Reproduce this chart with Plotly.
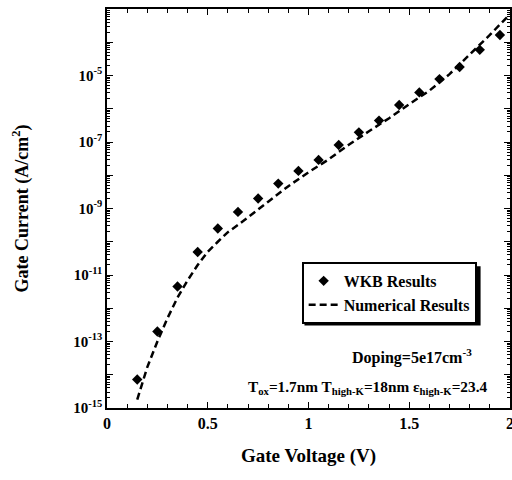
import numpy as np
import plotly.graph_objects as go

# WKB results (diamonds)
wkb_v = [0.15, 0.25, 0.35, 0.45, 0.55, 0.65, 0.75, 0.85, 0.95, 1.05,
         1.15, 1.25, 1.35, 1.45, 1.55, 1.65, 1.75, 1.85, 1.95]
wkb_j = [7.2e-15, 2.0e-13, 4.5e-12, 4.9e-11, 2.5e-10, 7.9e-10, 2.0e-9, 5.6e-9, 1.35e-8, 2.9e-8,
         8.1e-8, 1.95e-7, 4.4e-7, 1.3e-6, 3.1e-6, 7.8e-6, 1.8e-5, 5.9e-5, 1.66e-4]

# Numerical results (dashed line)
num_v = [0.15, 0.2, 0.25, 0.3, 0.35, 0.4, 0.45, 0.5, 0.55, 0.6, 0.65, 0.7,
         0.8, 0.9, 1.0, 1.1, 1.2, 1.3, 1.4, 1.5, 1.6, 1.7, 1.8, 1.9, 2.0]
num_j = [1.8e-15, 1.7e-14, 1.0e-13, 5.0e-13, 2.1e-12, 6.9e-12, 2.0e-11, 5.0e-11, 1.0e-10, 1.95e-10, 3.2e-10, 5.4e-10,
         1.6e-9, 4.7e-9, 1.23e-8, 3.0e-8, 8.3e-8, 2.1e-7, 5.2e-7, 1.38e-6, 3.5e-6, 1.1e-5, 4.3e-5, 1.66e-4, 7.0e-4]

x_tick_vals = [0, 0.5, 1, 1.5, 2]
x_tick_text = ["0", "0.5", "1", "1.5", "2"]
y_exponents = list(range(-15, -2))
y_label_exponents = [-15, -13, -11, -9, -7, -5]

FONT = "Liberation Serif"

fig = go.Figure()
fig.add_trace(go.Scatter(
    x=wkb_v, y=wkb_j, mode="markers", name="WKB Results",
    marker=dict(symbol="diamond", size=8, color="black"),
))
fig.add_trace(go.Scatter(
    x=num_v, y=num_j, mode="lines", name="Numerical Results",
    line=dict(color="black", width=2.5, dash="7px,4px"),
))

y_tickvals = [10.0 ** e for e in y_exponents]
y_ticktext = [f"10<sup>{e}</sup>" if e in y_label_exponents else "" for e in y_exponents]
y_minor = [k * 10.0 ** e for e in y_exponents[:-1] for k in range(2, 10)]

fig.update_xaxes(
    range=[0, 2], tickmode="array", tickvals=x_tick_vals, ticktext=x_tick_text,
    ticks="inside", ticklen=6, tickwidth=1.2, tickcolor="black",
    minor=dict(tickmode="array", tickvals=[i / 10 for i in range(1, 20)],
               ticks="inside", ticklen=4, tickwidth=1, tickcolor="black"),
    showline=True, linecolor="black", linewidth=1.5, mirror="ticks",
    showgrid=False, zeroline=False, automargin=False, ticklabeloverflow="allow",
    tickfont=dict(family=FONT, size=16, color="black", weight="bold"),
    title=dict(text="Gate Voltage (V)", standoff=18,
               font=dict(family=FONT, size=19, color="black", weight="bold")),
)
fig.update_yaxes(
    type="log", range=[-15, -3], tickmode="array", tickvals=y_tickvals, ticktext=y_ticktext,
    ticks="inside", ticklen=6, tickwidth=1.2, tickcolor="black",
    minor=dict(tickmode="array", tickvals=y_minor,
               ticks="inside", ticklen=3, tickwidth=1, tickcolor="black"),
    showline=True, linecolor="black", linewidth=1.5, mirror="ticks",
    showgrid=False, zeroline=False, automargin=False, ticklabeloverflow="allow",
    tickfont=dict(family=FONT, size=15, color="black", weight="bold"),
    title=dict(text="Gate Current (A/cm<sup>2</sup>)", standoff=40,
               font=dict(family=FONT, size=18, color="black", weight="bold")),
)

fig.add_annotation(
    xref="paper", yref="paper", x=0.756, y=0.13, xanchor="center", yanchor="middle",
    showarrow=False, text="Doping=5e17cm<sup>-3</sup>",
    font=dict(family=FONT, size=16, color="black", weight="bold"),
)
fig.add_annotation(
    xref="paper", yref="paper", x=0.647, y=0.052, xanchor="center", yanchor="middle",
    showarrow=False,
    text="T<sub>ox</sub>=1.7nm T<sub>high-K</sub>=18nm ε<sub>high-K</sub>=23.4",
    font=dict(family=FONT, size=15.3, color="black", weight="bold"),
)

# legend drop shadow
fig.add_shape(
    type="rect", xref="paper", yref="paper",
    x0=0.4900, x1=0.9270, y0=0.2065, y1=0.355,
    fillcolor="black", line=dict(width=0), layer="above",
)

fig.update_layout(
    width=512, height=480,
    margin=dict(l=107, r=2, t=9, b=72, autoexpand=False),
    paper_bgcolor="white", plot_bgcolor="white",
    showlegend=True,
    legend=dict(
        x=0.483, y=0.366, xanchor="left", yanchor="top",
        bgcolor="white", bordercolor="black", borderwidth=2,
        font=dict(family=FONT, size=16, color="black", weight="bold"),
        itemwidth=30, tracegroupgap=0,
    ),
)

fig.write_html("out.html")
